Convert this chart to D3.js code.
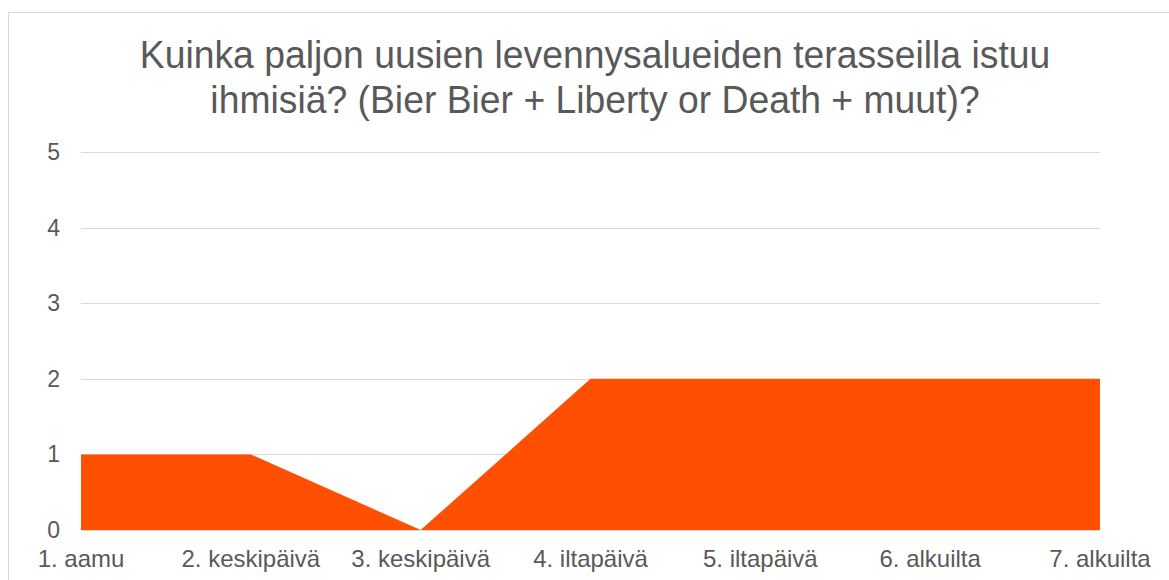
<!DOCTYPE html>
<html>
<head>
<meta charset="utf-8">
<script src="https://d3js.org/d3.v7.min.js"></script>
<style>
  body { margin: 0; background: #fff; }
  svg text { font-family: "Liberation Sans", Arial, sans-serif; fill: #595959; }
</style>
</head>
<body>
<svg id="chart" width="1169" height="580"></svg>
<script>
// data
const categories = ["1. aamu", "2. keskipäivä", "3. keskipäivä", "4. iltapäivä", "5. iltapäivä", "6. alkuilta", "7. alkuilta"];
const values = [1, 1, 0, 2, 2, 2, 2];
const yTicks = [0, 1, 2, 3, 4, 5];
const titleLines = ["Kuinka paljon uusien levennysalueiden terasseilla istuu", "ihmisiä? (Bier Bier + Liberty or Death + muut)?"];

var svg = d3.select("#chart");

// chart frame
svg.append("rect")
  .attr("x", 8.5).attr("y", 12.5)
  .attr("width", 1200).attr("height", 600)
  .attr("fill", "none")
  .attr("stroke", "#d9d9d9");

var x = d3.scalePoint().domain(categories).range([81, 1100]);
var y = d3.scaleLinear().domain([0, 5]).range([530, 152]);

// gridlines
svg.append("g")
  .selectAll("line")
  .data(yTicks)
  .enter()
  .append("line")
  .attr("x1", 81).attr("x2", 1100)
  .attr("y1", d => Math.round(y(d)) + 0.5)
  .attr("y2", d => Math.round(y(d)) + 0.5)
  .attr("stroke", "#d9d9d9")
  .attr("stroke-width", 1);

// area
var area = d3.area()
  .x((d, i) => x(categories[i]))
  .y0(y(0))
  .y1(d => y(d));

svg.append("path")
  .datum(values)
  .attr("d", area)
  .attr("fill", "#fe5000");

// y labels
svg.append("g")
  .selectAll("text")
  .data(yTicks)
  .enter()
  .append("text")
  .attr("x", 60)
  .attr("y", d => y(d) + 8)
  .attr("text-anchor", "end")
  .style("font-size", "23px")
  .text(d => d);

// x labels
svg.append("g")
  .selectAll("text")
  .data(categories)
  .enter()
  .append("text")
  .attr("x", d => x(d))
  .attr("y", 567)
  .attr("text-anchor", "middle")
  .style("font-size", "24px")
  .text(d => d);

// title (slightly condensed like the original)
svg.append("g")
  .attr("transform", "translate(595,0) scale(0.957,1)")
  .selectAll("text")
  .data(titleLines)
  .enter()
  .append("text")
  .attr("x", 0)
  .attr("y", (d, i) => 68 + i * 45)
  .attr("text-anchor", "middle")
  .style("font-size", "39px")
  .text(d => d);
</script>
</body>
</html>
